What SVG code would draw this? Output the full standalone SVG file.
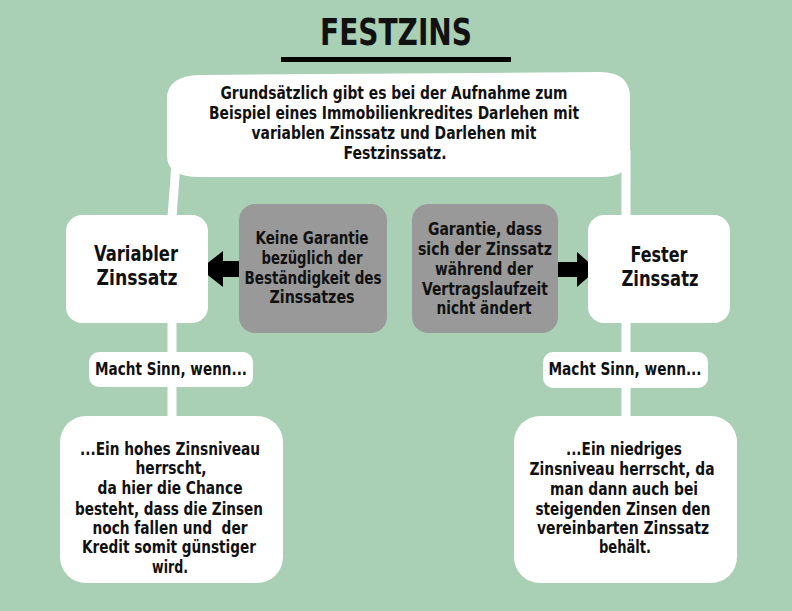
<svg xmlns="http://www.w3.org/2000/svg" width="792" height="611" viewBox="0 0 792 611">
  <defs>
    <style>
      text { font-family: "Liberation Sans Narrow", "DejaVu Sans Condensed", "Liberation Sans", sans-serif; font-weight: bold; fill: #111; text-anchor: middle; }
      .t17 { font-size: 17px; }
      .t21 { font-size: 21px; }
      .title { font-size: 38px; }
      .white { fill: #ffffff; }
      .gray { fill: #999999; }
      .conn { stroke: #ffffff; stroke-width: 9; fill: none; }
      .arrow { fill: #000000; }
    </style>
  </defs>
  <rect x="0" y="0" width="792" height="611" fill="#a9cfb5"/>

  <g id="title">
    <text class="title" x="396" y="45" textLength="152" lengthAdjust="spacingAndGlyphs">FESTZINS</text>
    <rect x="281" y="57" width="230" height="5" fill="#000"/>
  </g>

  <g id="connectors">
    <path class="conn" d="M177,150 L172,217"/>
    <path class="conn" d="M172,320 L172,418"/>
    <path class="conn" d="M626,150 L626,418"/>
    <polygon class="arrow" points="200,269 223,251 223,261 240,261 240,277 223,277 223,287"/>
    <polygon class="arrow" points="558,262 577,262 577,252 597,269.5 577,287 577,277 558,277"/>
  </g>

  <g id="intro">
    <path class="white" d="M167,98 Q167,76 200,75 L600,72 Q630,72 630,98 L630,156 Q630,177 600,177 L200,177 Q167,177 167,156 Z"/>
    <text class="t17" x="394" y="99" textLength="347" lengthAdjust="spacingAndGlyphs">Grundsätzlich gibt es bei der Aufnahme zum</text>
    <text class="t17" x="394" y="119" textLength="370" lengthAdjust="spacingAndGlyphs">Beispiel eines Immobilienkredites Darlehen mit</text>
    <text class="t17" x="394" y="139" textLength="285" lengthAdjust="spacingAndGlyphs">variablen Zinssatz und Darlehen mit</text>
    <text class="t17" x="395" y="159" textLength="103" lengthAdjust="spacingAndGlyphs">Festzinssatz.</text>
  </g>

  <g id="variabler">
    <rect class="white" x="66" y="215" width="142" height="108" rx="16"/>
    <text class="t21" x="136" y="261" textLength="84" lengthAdjust="spacingAndGlyphs">Variabler</text>
    <text class="t21" x="137" y="285" textLength="81" lengthAdjust="spacingAndGlyphs">Zinssatz</text>
  </g>

  <g id="keine-garantie">
    <rect class="gray" x="239" y="204" width="148" height="129" rx="16"/>
    <text class="t17" x="312" y="244" textLength="113" lengthAdjust="spacingAndGlyphs">Keine Garantie</text>
    <text class="t17" x="312" y="264" textLength="101" lengthAdjust="spacingAndGlyphs">bezüglich der</text>
    <text class="t17" x="313" y="284" textLength="137" lengthAdjust="spacingAndGlyphs">Beständigkeit des</text>
    <text class="t17" x="312" y="303" textLength="85" lengthAdjust="spacingAndGlyphs">Zinssatzes</text>
  </g>

  <g id="garantie">
    <rect class="gray" x="412" y="204" width="146" height="129" rx="16"/>
    <text class="t17" x="485" y="235" textLength="114" lengthAdjust="spacingAndGlyphs">Garantie, dass</text>
    <text class="t17" x="485" y="255" textLength="134" lengthAdjust="spacingAndGlyphs">sich der Zinssatz</text>
    <text class="t17" x="484" y="275" textLength="98" lengthAdjust="spacingAndGlyphs">während der</text>
    <text class="t17" x="485" y="295" textLength="126" lengthAdjust="spacingAndGlyphs">Vertragslaufzeit</text>
    <text class="t17" x="484" y="314" textLength="95" lengthAdjust="spacingAndGlyphs">nicht ändert</text>
  </g>

  <g id="fester">
    <rect class="white" x="588" y="215" width="142" height="108" rx="16"/>
    <text class="t21" x="659" y="262" textLength="57" lengthAdjust="spacingAndGlyphs">Fester</text>
    <text class="t21" x="660" y="286" textLength="77" lengthAdjust="spacingAndGlyphs">Zinssatz</text>
  </g>

  <g id="sinn-links">
    <rect class="white" x="89" y="352" width="164" height="35" rx="10"/>
    <text class="t17" x="171" y="375" textLength="152" lengthAdjust="spacingAndGlyphs">Macht Sinn, wenn...</text>
  </g>

  <g id="sinn-rechts">
    <rect class="white" x="543" y="352" width="165" height="36" rx="10"/>
    <text class="t17" x="625" y="375" textLength="153" lengthAdjust="spacingAndGlyphs">Macht Sinn, wenn...</text>
  </g>

  <g id="hohes-zinsniveau">
    <rect class="white" x="60" y="416" width="223" height="167" rx="26"/>
    <text class="t17" x="170" y="455" textLength="180" lengthAdjust="spacingAndGlyphs">...Ein hohes Zinsniveau</text>
    <text class="t17" x="171" y="474" textLength="71" lengthAdjust="spacingAndGlyphs">herrscht,</text>
    <text class="t17" x="170" y="494" textLength="145" lengthAdjust="spacingAndGlyphs">da hier die Chance</text>
    <text class="t17" x="169" y="515" textLength="188" lengthAdjust="spacingAndGlyphs">besteht, dass die Zinsen</text>
    <text class="t17" x="170" y="534" textLength="155" lengthAdjust="spacingAndGlyphs">noch fallen und&#160; der</text>
    <text class="t17" x="169" y="553" textLength="174" lengthAdjust="spacingAndGlyphs">Kredit somit günstiger</text>
    <text class="t17" x="170" y="573" textLength="36" lengthAdjust="spacingAndGlyphs">wird.</text>
  </g>

  <g id="niedriges-zinsniveau">
    <rect class="white" x="514" y="416" width="223" height="167" rx="26"/>
    <text class="t17" x="624" y="455" textLength="116" lengthAdjust="spacingAndGlyphs">...Ein niedriges</text>
    <text class="t17" x="622" y="475" textLength="185" lengthAdjust="spacingAndGlyphs">Zinsniveau herrscht, da</text>
    <text class="t17" x="624" y="495" textLength="148" lengthAdjust="spacingAndGlyphs">man dann auch bei</text>
    <text class="t17" x="623" y="515" textLength="175" lengthAdjust="spacingAndGlyphs">steigenden Zinsen den</text>
    <text class="t17" x="623" y="534" textLength="172" lengthAdjust="spacingAndGlyphs">vereinbarten Zinssatz</text>
    <text class="t17" x="625" y="553" textLength="52" lengthAdjust="spacingAndGlyphs">behält.</text>
  </g>
</svg>
